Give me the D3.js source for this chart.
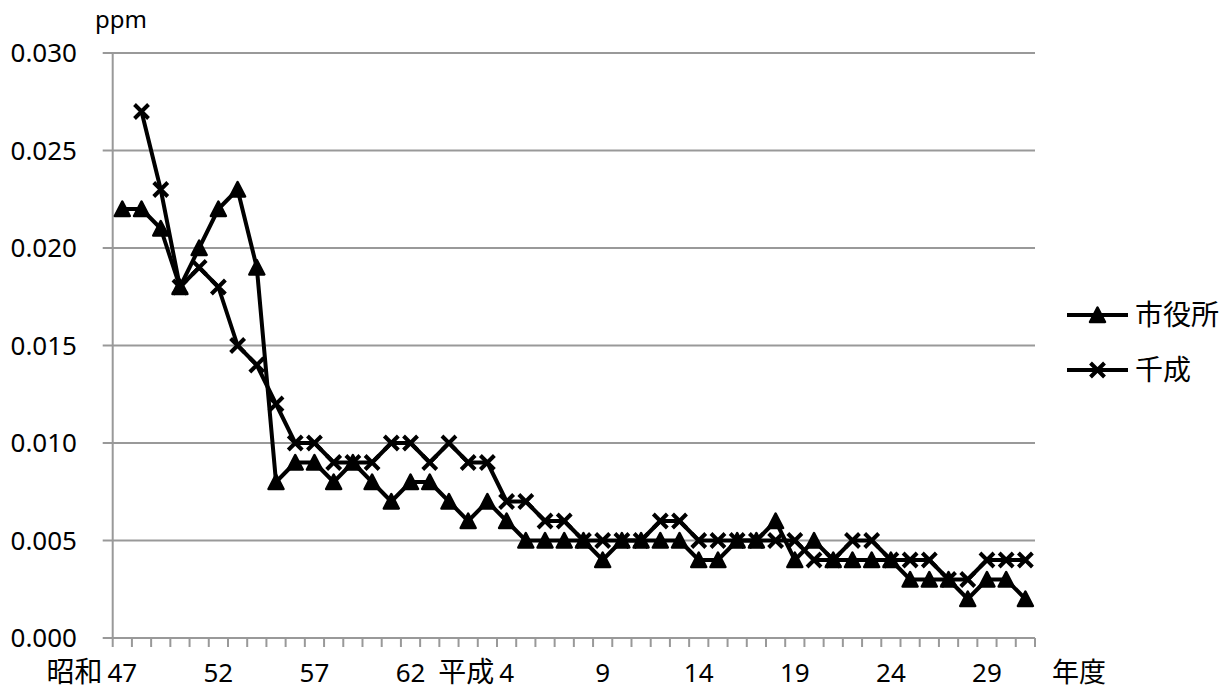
<!DOCTYPE html>
<html>
<head>
<meta charset="utf-8">
<script src="https://cdn.jsdelivr.net/npm/d3@7/dist/d3.min.js"></script>
<style>
  body { margin: 0; background: #fff; }
  svg { display: block; }
  text { font-family: "Noto Sans", "Noto Sans CJK JP", sans-serif; fill: #000; }
  .cjk { font-family: "Noto Sans CJK JP", sans-serif; }
</style>
</head>
<body>
<div id="chart"></div>
<script>
// categories: fiscal years, 昭和47 .. 平成31
var categories = ['昭和47','昭和48','昭和49','昭和50','昭和51','昭和52','昭和53','昭和54','昭和55','昭和56',
  '昭和57','昭和58','昭和59','昭和60','昭和61','昭和62','昭和63',
  '平成元','平成2','平成3','平成4','平成5','平成6','平成7','平成8','平成9','平成10','平成11','平成12',
  '平成13','平成14','平成15','平成16','平成17','平成18','平成19','平成20','平成21','平成22','平成23',
  '平成24','平成25','平成26','平成27','平成28','平成29','平成30','平成31'];

var shownLabels = ['昭和47','昭和52','昭和57','昭和62','平成4','平成9','平成14','平成19','平成24','平成29'];
var eraShown = ['昭和47','平成4'];

var seriesNames = ['市役所','千成'];

var shiyakusho = [0.022,0.022,0.021,0.018,0.020,0.022,0.023,0.019,0.008,0.009,
  0.009,0.008,0.009,0.008,0.007,0.008,0.008,
  0.007,0.006,0.007,0.006,0.005,0.005,0.005,0.005,0.004,0.005,0.005,0.005,
  0.005,0.004,0.004,0.005,0.005,0.006,0.004,0.005,0.004,0.004,0.004,
  0.004,0.003,0.003,0.003,0.002,0.003,0.003,0.002];

var sennari = [null,0.027,0.023,0.018,0.019,0.018,0.015,0.014,0.012,0.010,
  0.010,0.009,0.009,0.009,0.010,0.010,0.009,
  0.010,0.009,0.009,0.007,0.007,0.006,0.006,0.005,0.005,0.005,0.005,0.006,
  0.006,0.005,0.005,0.005,0.005,0.005,0.005,0.004,0.004,0.005,0.005,
  0.004,0.004,0.004,0.003,0.003,0.004,0.004,0.004];

var yTicks = [0,0.005,0.010,0.015,0.020,0.025,0.030];

var svgWidth = 1227, svgHeight = 691;
var plot = {left:112.7, right:1035, top:53, bottom:638};

var svg = d3.select('#chart').append('svg').attr('width', svgWidth).attr('height', svgHeight);

var x = d3.scaleBand().domain(categories).range([plot.left, plot.right]).padding(0);
var y = d3.scaleLinear().domain([0, 0.03]).range([plot.bottom, plot.top]);
var cx = function(c){ return x(c) + x.bandwidth()/2; };

// gridlines + y tick marks
svg.append('g').selectAll('line').data(yTicks.filter(function(d){ return d > 0; })).enter().append('line')
  .attr('x1', plot.left - 10).attr('x2', plot.right)
  .attr('y1', function(d){ return y(d); }).attr('y2', function(d){ return y(d); })
  .attr('stroke', '#999').attr('stroke-width', 2);

svg.append('line').attr('x1', plot.left - 10).attr('x2', plot.right)
  .attr('y1', plot.bottom).attr('y2', plot.bottom).attr('stroke', '#999').attr('stroke-width', 2);
svg.append('line').attr('x1', plot.left).attr('x2', plot.left)
  .attr('y1', plot.top).attr('y2', plot.bottom).attr('stroke', '#999').attr('stroke-width', 2);

// x tick marks at category boundaries
var bounds = categories.map(function(c){ return x(c); }).concat([plot.right]);
svg.append('g').selectAll('line').data(bounds).enter().append('line')
  .attr('x1', function(d){ return d; }).attr('x2', function(d){ return d; })
  .attr('y1', plot.bottom).attr('y2', plot.bottom + 9)
  .attr('stroke', '#999').attr('stroke-width', 2);

// y labels
svg.append('g').selectAll('text').data(yTicks).enter().append('text')
  .attr('x', 77).attr('y', function(d){ return y(d); }).attr('dy', '0.35em')
  .attr('text-anchor', 'end').style('font-size', '26px')
  .text(d3.format('.3f'));

svg.append('text').attr('x', 95).attr('y', 28).style('font-size', '24px').text('ppm');

// x labels
var labelY = 682;
var xl = svg.append('g');
shownLabels.forEach(function(c){
  var num = c.slice(2);
  var t = xl.append('text').attr('x', cx(c)).attr('y', labelY).attr('text-anchor', 'middle')
    .style('font-size', '26px').text(num);
  if (eraShown.indexOf(c) >= 0) {
    var w = t.node().getComputedTextLength();
    xl.append('text').attr('class', 'cjk').attr('x', cx(c) - w/2 - 5).attr('y', labelY)
      .attr('text-anchor', 'end').style('font-size', '28px').text(c.slice(0, 2));
  }
});
svg.append('text').attr('class', 'cjk').attr('x', 1052).attr('y', labelY).style('font-size', '27px').text('年度');

// marker shapes
var triPath = 'M0,-7.5L7.5,7L-7.5,7Z';
var xPath = 'M-7,-7L7,7M-7,7L7,-7';

function drawMarker(g, kind, px, py){
  if (kind === 'tri') {
    g.append('path').attr('d', triPath).attr('transform', 'translate(' + px + ',' + py + ')')
      .attr('fill', '#000').attr('stroke', '#000').attr('stroke-width', 2.5).attr('stroke-linejoin', 'round');
  } else {
    g.append('path').attr('d', xPath).attr('transform', 'translate(' + px + ',' + py + ')')
      .attr('fill', 'none').attr('stroke', '#000').attr('stroke-width', 4);
  }
}

var line = d3.line()
  .defined(function(d){ return d.v !== null; })
  .x(function(d){ return cx(d.c); }).y(function(d){ return y(d.v); });

var series = [{name:seriesNames[0], values:shiyakusho, kind:'tri'}, {name:seriesNames[1], values:sennari, kind:'x'}];

series.forEach(function(s){
  var pts = categories.map(function(c, i){ return {c:c, v:s.values[i]}; });
  var g = svg.append('g');
  g.append('path').datum(pts).attr('d', line).attr('fill', 'none')
    .attr('stroke', '#000').attr('stroke-width', 4).attr('stroke-linejoin', 'round');
  pts.filter(function(d){ return d.v !== null; }).forEach(function(d){
    drawMarker(g, s.kind, cx(d.c), y(d.v));
  });
});

// legend
var legY = [315, 370];
series.forEach(function(s, i){
  var g = svg.append('g');
  g.append('line').attr('x1', 1067).attr('x2', 1128).attr('y1', legY[i]).attr('y2', legY[i])
    .attr('stroke', '#000').attr('stroke-width', 4);
  drawMarker(g, s.kind, 1097.5, legY[i]);
  g.append('text').attr('class', 'cjk').attr('x', 1135).attr('y', legY[i]).attr('dy', '0.36em')
    .style('font-size', '28px').text(s.name);
});
</script>
</body>
</html>
